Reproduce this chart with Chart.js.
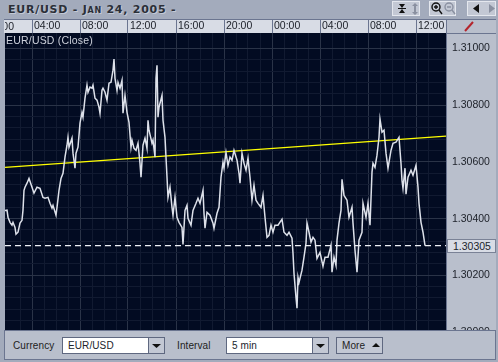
<!DOCTYPE html>
<html><head><meta charset="utf-8">
<script src="https://cdn.jsdelivr.net/npm/chart.js@4"></script>
<style>
html,body{margin:0;padding:0;width:498px;height:362px;overflow:hidden;background:#a3abbc;font-family:"Liberation Sans",Arial,sans-serif;color:#20242c}
.a{position:absolute;box-sizing:border-box}
#c{position:absolute;left:0;top:0;z-index:2}
.btn{background:#c3c8d4;border:1px solid #5f6880}
.box{background:#fff;border:1px solid #5f6880;font-size:10px;padding:1px 0 0 5px;line-height:13px;letter-spacing:.1px}
.lab{font-size:10px;letter-spacing:.1px;color:#222}
</style></head><body>
<div class="a" id="title" style="left:8px;top:3px;font:bold 11px 'DejaVu Sans';font-variant:small-caps;letter-spacing:.75px;color:#2b2f38;text-shadow:1px 1px 0 #c4cad6;white-space:pre">EUR/USD - Jan 24, 2005 -</div>
<div class="a" style="left:392px;top:1px;width:28px;height:15px;background:#c3c8d4;border:1px solid #e4e7ee"></div>
<div class="a" style="left:429px;top:1px;width:27px;height:15px;background:#c3c8d4;border:1px solid #e4e7ee"></div>
<div class="a" style="left:467px;top:1px;width:29px;height:15px;background:#c3c8d4;border:1px solid #e4e7ee"></div>
<svg class="a" style="left:392px;top:1px;z-index:3" width="106" height="16">
<path d="M7 3h6l-3 4zM7 12h6l-3-4z" fill="#111"/><rect x="6" y="7" width="8" height="1" fill="#111"/>
<path d="M20 5h6l-3-3zM20 11h6l-3 3z" fill="#8a90a0"/><rect x="22" y="5" width="2" height="6" fill="#8a90a0"/>
<circle cx="44" cy="6" r="4" fill="none" stroke="#111" stroke-width="1.4"/><path d="M42 6h4M44 4v4M47 9l3 4" stroke="#111" stroke-width="1.4"/>
<circle cx="57" cy="6" r="4" fill="none" stroke="#8a90a0" stroke-width="1.4"/><path d="M55 6h4M60 9l3 4" stroke="#8a90a0" stroke-width="1.4"/>
<path d="M87 3v9l-6-4.500z" fill="#111"/><path d="M97 3v9l6-4.500z" fill="#8a90a0"/>
</svg>
<div class="a" style="left:4px;top:19px;width:443px;height:14px;background:#d8dce5;border-top:1px solid #6b7590"></div>
<div class="a" style="left:5px;top:20px;width:9px;height:13px;overflow:hidden;font-size:10.500px;line-height:12px;z-index:3;color:#20242c"><span style="position:absolute;right:0;white-space:nowrap">00</span></div>
<div class="a" style="left:446px;top:19px;width:50px;height:312px;background:#b9bfcc;border-left:1px solid #6b7590;border-top:1px solid #6b7590"></div>
<svg class="a" style="left:446px;top:19px;z-index:3" width="50" height="14"><path d="M19 12l8-9" stroke="#b4242c" stroke-width="2"/></svg>
<div class="a" style="left:446px;top:33px;width:50px;height:1px;background:#6b7590;z-index:3"></div>
<canvas id="c" width="498" height="362"></canvas>
<div class="a" style="left:6px;top:34px;font-size:10.500px;letter-spacing:.2px;line-height:12px;color:#ccd0da;z-index:3">EUR/USD (Close)</div>
<div class="a" id="last" style="left:447px;top:239px;width:49px;height:14px;background:#d8dce5;border:1px solid #7a8296;font-size:10.500px;line-height:12px;padding-left:5px;z-index:3;color:#20242c">1.30305</div>
<div class="a" style="left:4px;top:330px;width:492px;height:30px;background:#b9bfcc;border:1px solid #6b7590;z-index:4">
 <div class="a lab" style="left:8px;top:9px">Currency</div>
 <div class="a box" style="left:57px;top:6px;width:87px;height:17px">EUR/USD</div>
 <div class="a btn" style="left:143px;top:6px;width:17px;height:17px"><svg width="15" height="15"><path d="M3 6h9l-4.500 4z" fill="#111"/></svg></div>
 <div class="a lab" style="left:172px;top:9px">Interval</div>
 <div class="a box" style="left:221px;top:6px;width:87px;height:17px">5 min</div>
 <div class="a btn" style="left:307px;top:6px;width:17px;height:17px"><svg width="15" height="15"><path d="M3 6h9l-4.500 4z" fill="#111"/></svg></div>
 <div class="a btn lab" style="left:331px;top:6px;width:47px;height:17px;padding:2px 0 0 5px">More <svg width="10" height="8" style="margin-left:3px"><path d="M1 6h8l-4-4z" fill="#111"/></svg></div>
</div>
<script>
const timeLabelStepMinutes = 240;
const closeMinutes = [
105,115,120,130,140,145,155,160,170,180,
190,195,200,205,215,225,240,250,265,280,
295,305,320,330,340,345,360,365,375,385,
395,405,415,420,425,440,445,455,460,470,
480,490,495,505,515,520,530,540,545,555,
565,575,580,590,595,605,615,625,635,645,
650,655,665,670,680,690,695,705,715,725,
735,740,750,760,770,780,785,795,805,815,
820,825,840,845,855,860,865,870,875,890,
895,905,915,920,930,940,945,955,965,975,
990,995,1005,1015,1020,1035,1045,1060,1070,1080,
1095,1100,1105,1115,1130,1145,1150,1165,1175,1185,
1195,1200,1210,1220,1230,1240,1250,1265,1275,1280,
1290,1300,1310,1320,1330,1340,1350,1360,1370,1385,
1395,1405,1415,1425,1435,1445,1455,1470,1490,1500,
1515,1525,1540,1545,1550,1560,1565,1570,1575,1590,
1600,1610,1615,1625,1635,1645,1655,1665,1680,1695,
1705,1720,1735,1740,1750,1760,1765,1775,1785,1790,
1800,1815,1825,1840,1845,1855,1865,1875,1890,1895,
1910,1920,1930,1940,1945,1955,1965,1975,1980,1990,
2000,2010,2020,2035,2045,2060,2075,2085,2090,2095,
2105,2110,2120,2135,2145,2160,2170,2175,2185,2195,
2205];
const closePrices = [
1.30429,1.30430,1.30405,1.30387,1.30377,1.30387,1.30369,1.30345,1.30352,1.30384,
1.30394,1.30430,1.30500,1.30511,1.30525,1.30542,1.30511,1.30490,1.30511,1.30507,
1.30475,1.30472,1.30475,1.30454,1.30437,1.30447,1.30412,1.30440,1.30500,1.30542,
1.30560,1.30617,1.30659,1.30687,1.30652,1.30684,1.30631,1.30578,1.30631,1.30652,
1.30737,1.30775,1.30758,1.30825,1.30871,1.30846,1.30864,1.30860,1.30871,1.30825,
1.30818,1.30793,1.30772,1.30853,1.30860,1.30846,1.30818,1.30878,1.30881,1.30924,
1.30963,1.30895,1.30853,1.30881,1.30860,1.30888,1.30772,1.30835,1.30775,1.30740,
1.30652,1.30677,1.30648,1.30641,1.30666,1.30595,1.30546,1.30659,1.30684,1.30648,
1.30747,1.30712,1.30666,1.30677,1.30617,1.30895,1.30941,1.30758,1.30793,1.30835,
1.30747,1.30687,1.30546,1.30475,1.30511,1.30440,1.30412,1.30475,1.30405,1.30387,
1.30369,1.30309,1.30429,1.30447,1.30401,1.30377,1.30429,1.30454,1.30472,1.30454,
1.30500,1.30419,1.30366,1.30422,1.30412,1.30384,1.30366,1.30419,1.30440,1.30546,
1.30599,1.30578,1.30634,1.30588,1.30617,1.30606,1.30641,1.30606,1.30560,1.30525,
1.30631,1.30595,1.30571,1.30613,1.30546,1.30465,1.30518,1.30465,1.30454,1.30440,
1.30482,1.30405,1.30334,1.30341,1.30377,1.30352,1.30377,1.30377,1.30398,1.30352,
1.30341,1.30352,1.30331,1.30278,1.30207,1.30122,1.30084,1.30193,1.30175,1.30218,
1.30264,1.30313,1.30384,1.30352,1.30317,1.30334,1.30324,1.30260,1.30281,1.30232,
1.30264,1.30264,1.30306,1.30211,1.30264,1.30235,1.30324,1.30384,1.30429,1.30539,
1.30482,1.30465,1.30405,1.30440,1.30384,1.30288,1.30211,1.30324,1.30352,1.30454,
1.30405,1.30454,1.30377,1.30564,1.30595,1.30581,1.30624,1.30687,1.30751,1.30705,
1.30712,1.30631,1.30578,1.30641,1.30666,1.30670,1.30687,1.30595,1.30535,1.30507,
1.30578,1.30486,1.30546,1.30571,1.30553,1.30588,1.30511,1.30454,1.30387,1.30352,
1.30305];
const axisMinutes = [105, 2310];
const trendPrices = [1.30581, 1.30691];
const lastPrice = [1.30305, 1.30305];

const plotBackground = {id:'plotBackground', beforeDraw(ch){
  const a = ch.chartArea, c = ch.ctx;
  c.save(); c.fillStyle = '#020b22'; c.fillRect(a.left, a.top, a.width, a.height); c.restore();
}};
const pairs = (xs, ys) => xs.map((x, i) => ({x, y: ys[i]}));
const isMajorTime = v => v % timeLabelStepMinutes === 0;
const isMajorPrice = v => Math.round((v - 1.3) / 0.0004) % 5 === 0;

new Chart(document.getElementById('c'), {
  type: 'line',
  plugins: [plotBackground],
  data: {datasets: [
    {data: pairs(axisMinutes, lastPrice), borderColor:'#eef0f5', borderWidth:1.2, borderDash:[6,4], pointRadius:0},
    {data: pairs(closeMinutes, closePrices), borderColor:'#dde1ea', borderWidth:1.5, pointRadius:0, tension:0},
    {data: pairs(axisMinutes, trendPrices), borderColor:'#ffff00', borderWidth:1.4, pointRadius:0}
  ]},
  options: {
    responsive:false, animation:false, devicePixelRatio:1,
    layout:{padding:{left:5, top:19, right:0, bottom:30}},
    plugins:{legend:{display:false}, tooltip:{enabled:false}, title:{display:false}},
    scales:{
      x:{
        type:'linear', position:'top', min:axisMinutes[0], max:axisMinutes[1],
        afterFit(s){ s.height = 14; },
        afterBuildTicks(s){ s.ticks = s.ticks.filter(t => t.value % 60 === 0); },
        border:{display:false},
        grid:{
          tickLength:14, drawTicks:true,
          tickColor: c => isMajorTime(c.tick.value) ? '#6b7590' : 'rgba(0,0,0,0)',
          color: c => isMajorTime(c.tick.value) ? '#2a3347' : '#111a31'
        },
        ticks:{
          stepSize:60, autoSkip:false, maxRotation:0, minRotation:0, align:'start', labelOffset:2, padding:-13,
          color:'#20242c', font:{family:'"Liberation Sans"', size:10.5},
          callback(v){
            if (!isMajorTime(v)) return '';
            const h = Math.floor(v / 60) % 24;
            return String(h).padStart(2,'0') + ':00';
          }
        }
      },
      y:{
        position:'right', min:1.3, max:1.31055,
        afterFit(s){ s.width = 52; },
        afterBuildTicks(s){ s.ticks = s.ticks.filter(t => Math.abs(((t.value - 1.3) / 0.0004) - Math.round((t.value - 1.3) / 0.0004)) < 1e-6); },
        border:{display:false},
        grid:{drawTicks:false, color: c => isMajorPrice(c.tick.value) ? '#2a3347' : '#111a31'},
        ticks:{
          stepSize:0.0004, autoSkip:false, padding:6,
          color:'#20242c', font:{family:'"Liberation Sans"', size:10.5},
          callback(v){ return isMajorPrice(v) ? v.toFixed(5) : ''; }
        }
      }
    }
  }
});
</script>
</body></html>
